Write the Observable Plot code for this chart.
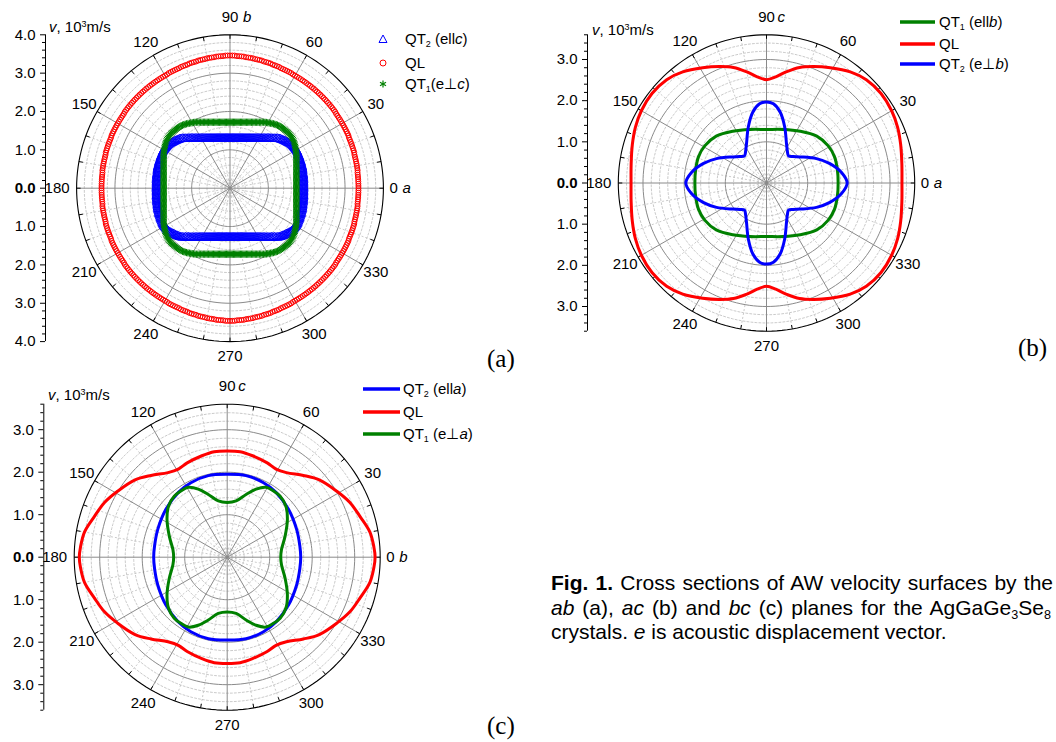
<!DOCTYPE html>
<html><head><meta charset="utf-8">
<script src="https://cdn.jsdelivr.net/npm/d3@7"></script>
<script src="https://cdn.jsdelivr.net/npm/@observablehq/plot@0.6"></script>
<style>
body{margin:0;background:#fff;font-family:"Liberation Sans",Arial,sans-serif;color:#000;}
#wrap{position:relative;width:1056px;height:742px;overflow:hidden;background:#fff;}
.abs{position:absolute;white-space:nowrap;line-height:1;}
.pl{position:absolute;}
sub{font-size:0.6em;vertical-align:-0.3em;line-height:0;}
sup{font-size:0.6em;vertical-align:0.55em;line-height:0;}
.leg{position:absolute;font-size:15px;line-height:1;white-space:nowrap;}
.leg svg{position:absolute;overflow:visible;}
.ser{font-family:"Liberation Serif","Times New Roman",serif;font-size:25px;}
.capl{position:absolute;left:551px;font-size:21px;line-height:1;white-space:nowrap;}
.just{white-space:normal;text-align:justify;text-align-last:justify;}
</style></head><body><div id="wrap"></div>
<script>
// ---------- DATA ----------
// Panel (a): ab plane, markers, one quadrant 0..90 deg at 1 deg (10^3 m/s), crystal symmetry mm
const angA = d3.range(0, 91, 1);
const qt2A = [1.92,1.92,1.92,1.92,1.92,1.925,1.93,1.93,1.93,1.935,1.94,1.94,1.94,1.945,1.95,1.955,1.96,1.96,1.96,1.965,
              1.97,1.97,1.97,1.975,1.98,1.98,1.98,1.985,1.99,1.99,1.99,1.985,1.98,1.975,1.97,1.96,1.95,1.935,1.92,1.905,
              1.89,1.875,1.86,1.845,1.83,1.81,1.79,1.76,1.73,1.705,1.68,1.66,1.64,1.617,1.595,1.575,1.556,1.538,1.521,1.505,
              1.49,1.475,1.461,1.448,1.435,1.423,1.412,1.401,1.391,1.382,1.373,1.364,1.356,1.349,1.342,1.336,1.33,1.324,1.319,1.314,
              1.31,1.306,1.303,1.30,1.297,1.295,1.293,1.292,1.291,1.29,1.29];
const qlA  = [3.35,3.35,3.35,3.35,3.35,3.35,3.35,3.35,3.36,3.36,3.36,3.36,3.36,3.36,3.36,3.36,3.37,3.37,3.37,3.37,
              3.37,3.37,3.37,3.37,3.38,3.38,3.38,3.38,3.38,3.38,3.38,3.38,3.38,3.38,3.38,3.38,3.39,3.39,3.39,3.39,
              3.39,3.39,3.39,3.39,3.39,3.39,3.39,3.39,3.39,3.39,3.39,3.39,3.39,3.39,3.39,3.39,3.39,3.39,3.39,3.39,
              3.39,3.39,3.40,3.40,3.40,3.40,3.40,3.40,3.41,3.41,3.41,3.41,3.42,3.42,3.42,3.42,3.43,3.43,3.43,3.43,
              3.44,3.44,3.44,3.44,3.45,3.45,3.45,3.45,3.46,3.46,3.46];
const qt1A = [1.730,1.730,1.731,1.732,1.734,1.737,1.740,1.743,1.747,1.752,1.757,1.762,1.769,1.776,1.783,1.791,1.800,1.809,1.819,1.830,
              1.841,1.853,1.866,1.879,1.894,1.909,1.925,1.942,1.957,1.970,1.982,1.996,2.010,2.024,2.037,2.049,2.060,2.070,2.078,2.085,
              2.089,2.093,2.096,2.099,2.100,2.095,2.088,2.087,2.084,2.081,2.077,2.073,2.066,2.058,2.048,2.037,2.025,2.012,1.998,1.984,
              1.971,1.959,1.946,1.931,1.914,1.898,1.883,1.868,1.855,1.842,1.830,1.819,1.808,1.799,1.790,1.781,1.773,1.766,1.759,1.752,
              1.747,1.742,1.737,1.733,1.730,1.727,1.724,1.722,1.721,1.720,1.720];

// Panel (b): ac plane
const angB_QT1 = [0,10,21,31,43,57,73,90];
const qt1B     = [1.74,1.75,1.77,1.75,1.67,1.50,1.36,1.30];
const angB_QL  = [0,8,16,23,30,38,46,53,61,68,74,80,85,90];
const qlB      = [3.29,3.32,3.39,3.46,3.51,3.53,3.49,3.38,3.20,3.05,2.92,2.74,2.59,2.51];
const angB_QT2 = [0,8,17,26,38,45,51,57,63,72,79,85,90];
const qt2B     = [1.96,1.84,1.61,1.35,1.03,0.91,0.85,0.93,1.07,1.43,1.75,1.93,1.97];

// Panel (c): bc plane
const angC_QT2 = [0,9,22,38,53,64,77,90];
const qt2C     = [1.73,1.73,1.76,1.83,1.91,1.95,1.97,1.95];
const angC_QL  = [0,4,10,17,24,31,40,47,55,61,67,76,83,90];
const qlC      = [3.48,3.46,3.41,3.27,3.16,3.01,2.83,2.63,2.43,2.37,2.41,2.46,2.50,2.50];
const angC_QT1 = [0,8,20,32,41,49,55,61,67,73,81,90];
const qt1C     = [1.26,1.29,1.45,1.67,1.83,1.90,1.90,1.88,1.74,1.55,1.34,1.29];

const angleTicks = [0,30,60,90,120,150,180,210,240,270,300,330];

const BLUE = "#0000ff", RED = "#ff0000", GREEN = "#008000";

// ---------- helpers ----------
const rad = d => d * Math.PI / 180;
function fullCircle(angs, rs) {
  const n = angs.length, pts = [];
  for (let i = 0; i < n; i++) pts.push([angs[i], rs[i]]);
  for (let i = n - 2; i >= 0; i--) pts.push([180 - angs[i], rs[i]]);
  for (let i = 1; i < n; i++) pts.push([180 + angs[i], rs[i]]);
  for (let i = n - 2; i >= 1; i--) pts.push([360 - angs[i], rs[i]]);
  return pts.map(([a, r]) => ({a, r, x: r * Math.cos(rad(a)), y: r * Math.sin(rad(a))}));
}

function panel(cfg) {
  const {W, H, cx, cy, k, rMax, axisX, letter, d90, curveMarks} = cfg;
  const R = rMax;
  const xDomain = [(axisX - cx) / k, (W - cx) / k];
  const marginTop = cy - R * k, marginBottom = H - (cy + R * k);
  const px = p => p / k;
  const circ = radii => radii.flatMap(r => d3.range(0, 360, 2).map(a => ({r, x: r * Math.cos(rad(a)), y: r * Math.sin(rad(a))})));
  const minorR = d3.range(1, Math.round(R * 5)).map(i => i / 5).filter(r => Math.abs(r - Math.round(r)) > 1e-9);
  const majorR = d3.range(1, Math.ceil(R)).filter(r => r < R - 1e-9);
  const spokesMinor = d3.range(0, 360, 10).filter(a => a % 30 !== 0);
  const spokesMajor = d3.range(0, 360, 30);
  const outerTicks = d3.range(0, 360, 10);
  const nMaj = Math.floor(R + 1e-9);
  const yMajor = d3.range(-nMaj, nMaj + 1).filter(v => v !== 0);
  const yMinor = d3.range(-Math.round(R * 5), Math.round(R * 5) + 1).map(i => i / 5).filter(v => Math.abs(v - Math.round(v)) > 1e-9);
  const lab = angleTicks.filter(a => a !== 0 && a !== 180);
  const labR = a => R + px(a === 90 ? 18 : 15);
  return Plot.plot({
    width: W, height: H,
    marginLeft: axisX, marginRight: 0, marginTop, marginBottom,
    x: {domain: xDomain, axis: null},
    y: {domain: [-R, R]},
    style: {fontFamily: "'Liberation Sans', Arial, sans-serif", fontSize: "15px", background: "transparent", overflow: "visible"},
    marks: [
      Plot.line(circ(minorR), {x: "x", y: "y", z: "r", curve: "linear-closed", stroke: "#bdbdbd", strokeWidth: 0.8, strokeDasharray: "2,2"}),
      Plot.link(spokesMinor, {x1: () => 0, y1: () => 0, x2: a => R * Math.cos(rad(a)), y2: a => R * Math.sin(rad(a)), stroke: "#bdbdbd", strokeWidth: 0.8, strokeDasharray: "2,2"}),
      Plot.line(circ(majorR), {x: "x", y: "y", z: "r", curve: "linear-closed", stroke: "#8a8a8a", strokeWidth: 1}),
      Plot.link(spokesMajor, {x1: () => 0, y1: () => 0, x2: a => R * Math.cos(rad(a)), y2: a => R * Math.sin(rad(a)), stroke: "#8a8a8a", strokeWidth: 1}),
      Plot.link(outerTicks, {x1: a => (R - px(4)) * Math.cos(rad(a)), y1: a => (R - px(4)) * Math.sin(rad(a)), x2: a => R * Math.cos(rad(a)), y2: a => R * Math.sin(rad(a)), stroke: "#000", strokeWidth: 1}),
      Plot.line(circ([R]), {x: "x", y: "y", z: "r", curve: "linear-closed", stroke: "#000", strokeWidth: 1.1}),
      ...curveMarks,
      // angular labels
      Plot.text(lab, {x: a => labR(a) * Math.cos(rad(a)), y: a => labR(a) * Math.sin(rad(a)), text: a => String(a), fontSize: 15}),
      Plot.text([0], {x: () => R + px(6), y: () => 0, text: () => "0", textAnchor: "start", fontSize: 15}),
      Plot.text([180], {x: () => -R - px(7), y: () => 0, text: () => "180", textAnchor: "end", fontSize: 15}),
      Plot.text([letter[0]], {x: () => R + px(19), y: () => 0, text: d => d, textAnchor: "start", fontStyle: "italic", fontSize: 15}),
      Plot.text([letter[1]], {x: () => px(d90), y: () => R + px(18), text: d => d, textAnchor: "start", fontStyle: "italic", fontSize: 15}),
      // radial axis
      Plot.ruleX([xDomain[0]], {y1: -R, y2: R, stroke: "#000", strokeWidth: 1}),
      Plot.axisY({ticks: yMinor, anchor: "left", tickSize: 3, tickFormat: () => "", label: null}),
      Plot.axisY({ticks: yMajor, anchor: "left", tickSize: 5, tickPadding: 5, tickFormat: d => Math.abs(d).toFixed(1), fontSize: 15, label: null}),
      Plot.axisY({ticks: [0], anchor: "left", tickSize: 5, tickPadding: 5, tickFormat: d => d.toFixed(1), fontSize: 15, fontWeight: "bold", label: null})
    ]
  });
}

const dots = (angs, rs, opts) => Plot.dot(fullCircle(angs, rs), {x: "x", y: "y", fill: "none", strokeWidth: 1, ...opts});
const curve = (angs, rs, color) => Plot.line(fullCircle(angs, rs), {x: "x", y: "y", curve: "catmull-rom-closed", stroke: color, strokeWidth: 3});

const wrap = document.getElementById("wrap");
function place(el, left, top) { el.classList.add("pl"); el.style.left = left + "px"; el.style.top = top + "px"; wrap.appendChild(el); }

// Panel (a)
place(panel({W: 440, H: 372, cx: 229.5, cy: 187.7, k: 38.35, rMax: 4, axisX: 45, letter: ["a", "b"], d90: 13,
  curveMarks: [
    dots(angA, qt2A, {symbol: "triangle", r: 3.3, stroke: BLUE}),
    dots(angA, qlA, {symbol: "circle", r: 2.5, stroke: RED}),
    dots(angA, qt1A, {symbol: "asterisk", r: 3.4, stroke: GREEN})
  ]}), 0, 0);

// Panel (b)
place(panel({W: 420, H: 350, cx: 226, cy: 182.5, k: 41.17, rMax: 3.6, axisX: 47, letter: ["a", "c"], d90: 11,
  curveMarks: [
    curve(angB_QT1, qt1B, GREEN),
    curve(angB_QL, qlB, RED),
    curve(angB_QT2, qt2B, BLUE)
  ]}), 540, 0);

// Panel (c)
place(panel({W: 440, H: 377, cx: 226.7, cy: 191.7, k: 42.5, rMax: 3.6, axisX: 43.3, letter: ["b", "c"], d90: 11,
  curveMarks: [
    curve(angC_QT2, qt2C, BLUE),
    curve(angC_QL, qlC, RED),
    curve(angC_QT1, qt1C, GREEN)
  ]}), 0, 365);

// ---------- text overlays ----------
function html(s) { const d = document.createElement("div"); d.innerHTML = s; return d.firstElementChild; }
function add(s) { wrap.appendChild(html(s)); }

const yLab = '<i>v</i>, 10<sup>3</sup>m/s';
add(`<div class="abs" style="left:49px;top:19px;font-size:15px">${yLab}</div>`);
add(`<div class="abs" style="left:592px;top:22px;font-size:15px">${yLab}</div>`);
add(`<div class="abs" style="left:48px;top:387px;font-size:15px">${yLab}</div>`);

add(`<div class="abs ser" style="left:487px;top:346px">(a)</div>`);
add(`<div class="abs ser" style="left:1018px;top:335px">(b)</div>`);
add(`<div class="abs ser" style="left:487px;top:713px">(c)</div>`);

// legend (a): markers
const triSvg = `<svg width="10" height="10" style="left:-5px;top:-5px"><polygon points="5,1 9,8.5 1,8.5" fill="none" stroke="${BLUE}" stroke-width="1"/></svg>`;
const cirSvg = `<svg width="10" height="10" style="left:-5px;top:-5px"><circle cx="5" cy="5" r="3" fill="none" stroke="${RED}" stroke-width="1"/></svg>`;
const astSvg = `<svg width="10" height="10" style="left:-5px;top:-5px"><g stroke="${GREEN}" stroke-width="1.2"><line x1="5" y1="1.5" x2="5" y2="8.5"/><line x1="2" y1="3.2" x2="8" y2="6.8"/><line x1="2" y1="6.8" x2="8" y2="3.2"/></g></svg>`;
function legRow(sx, sy, symbol, tx, label) {
  add(`<div class="leg" style="left:${sx}px;top:${sy}px">${symbol}</div>`);
  add(`<div class="leg" style="left:${tx}px;top:${sy - 8}px">${label}</div>`);
}
legRow(383, 39, triSvg, 405, 'QT<sub>2</sub> (ell<i>c</i>)');
legRow(383, 63, cirSvg, 405, 'QL');
legRow(383, 84, astSvg, 405, 'QT<sub>1</sub>(e⊥<i>c</i>)');

const lineSvg = (c, w) => `<svg width="${w}" height="6" style="left:0;top:-3px"><line x1="0" y1="3" x2="${w}" y2="3" stroke="${c}" stroke-width="3.5"/></svg>`;
legRow(900, 22, lineSvg(GREEN, 35), 939, 'QT<sub>1</sub> (ell<i>b</i>)');
legRow(900, 44, lineSvg(RED, 35), 939, 'QL');
legRow(900, 64, lineSvg(BLUE, 35), 939, 'QT<sub>2</sub> (e⊥<i>b</i>)');

legRow(363, 389, lineSvg(BLUE, 37), 403, 'QT<sub>2</sub> (ell<i>a</i>)');
legRow(363, 411.5, lineSvg(RED, 37), 403, 'QL');
legRow(363, 434, lineSvg(GREEN, 37), 403, 'QT<sub>1</sub> (e⊥<i>a</i>)');

// caption (justified lines, kept inside the page)
add(`<div class="capl just" style="top:572px;width:502px"><b>Fig. 1.</b> Cross sections of AW velocity surfaces by the</div>`);
add(`<div class="capl just" style="top:597px;width:500px"><i>ab</i> (a), <i>ac</i> (b) and <i>bc</i> (c) planes for the AgGaGe<sub>3</sub>Se<sub>8</sub></div>`);
add(`<div class="capl" style="top:621px">crystals. <i>e</i> is acoustic displacement vector.</div>`);
</script></body></html>
